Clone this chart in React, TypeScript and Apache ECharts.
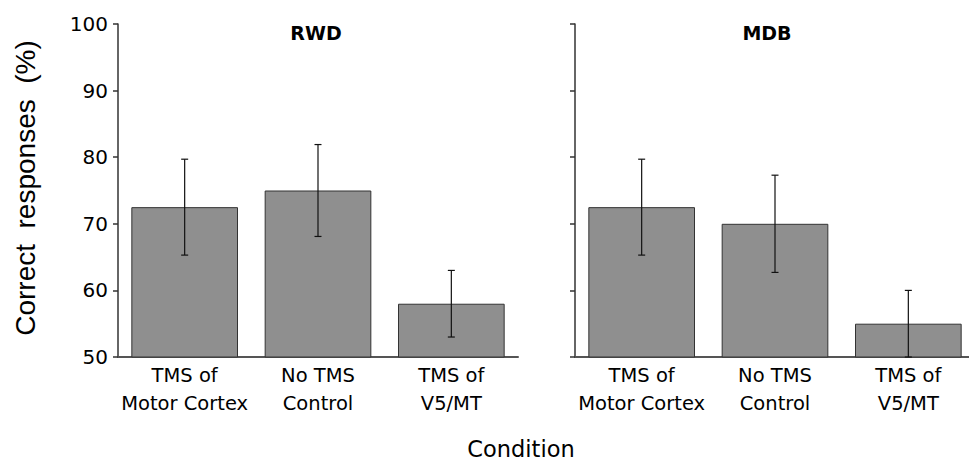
import React, { useEffect, useRef } from "react";
import * as echarts from "echarts";

const categories = ["TMS of\nMotor Cortex", "No TMS\nControl", "TMS of\nV5/MT"];
const panelTitles = ["RWD", "MDB"];
const rwdValues = [72.5, 75.0, 58.0];
const rwdErrors = [7.2, 6.9, 5.0];
const mdbValues = [72.5, 70.0, 55.0];
const mdbErrors = [7.2, 7.3, 5.0];
const yMin = 50;
const yMax = 100;
const yInterval = 10;
const yAxisTitle = "Correct  responses  (%)";
const xAxisTitle = "Condition";

const FONT = "'DejaVu Sans', Verdana, sans-serif";

function errorSeries(idx: number, values: number[], errors: number[]) {
  return {
    type: "custom",
    xAxisIndex: idx,
    yAxisIndex: idx,
    z: 5,
    data: values.map((v, i) => [i, v - errors[i], v + errors[i]]),
    renderItem: (params: any, api: any) => {
      const x = api.value(0);
      const lo = api.coord([x, api.value(1)]);
      const hi = api.coord([x, api.value(2)]);
      const cap = 3.5;
      const st = { stroke: "#111", lineWidth: 1.2 };
      return {
        type: "group",
        children: [
          { type: "line", shape: { x1: lo[0], y1: lo[1], x2: hi[0], y2: hi[1] }, style: st },
          { type: "line", shape: { x1: lo[0] - cap, y1: lo[1], x2: lo[0] + cap, y2: lo[1] }, style: st },
          { type: "line", shape: { x1: hi[0] - cap, y1: hi[1], x2: hi[0] + cap, y2: hi[1] }, style: st },
        ],
      };
    },
  };
}

export default function App() {
  const ref = useRef<HTMLDivElement>(null);
  useEffect(() => {
    if (!ref.current) return;
    const chart = echarts.init(ref.current, null, { renderer: "svg" });
    const xAxisCommon = {
      type: "category",
      data: categories,
      axisTick: { show: false },
      axisLine: { show: true, lineStyle: { color: "#555", width: 2 } },
      axisLabel: { color: "#000", fontSize: 19.5, lineHeight: 28, fontFamily: FONT, margin: 4, interval: 0 },
    };
    const yAxisCommon = {
      type: "value",
      min: yMin,
      max: yMax,
      interval: yInterval,
      splitLine: { show: false },
      axisLine: { show: true, lineStyle: { color: "#333", width: 1.5 } },
      axisTick: { show: true, length: 5, lineStyle: { color: "#333", width: 1.5 } },
    };
    const titleStyle = { fontFamily: FONT, fontSize: 19, fontWeight: "bold", fill: "#000", align: "center", verticalAlign: "middle" };
    chart.setOption({
      animation: false,
      backgroundColor: "#fff",
      grid: [
        { left: 118, top: 24, width: 400, height: 333 },
        { left: 575, top: 24, width: 400, height: 333 },
      ],
      xAxis: [
        { ...xAxisCommon, gridIndex: 0 },
        { ...xAxisCommon, gridIndex: 1 },
      ],
      yAxis: [
        { ...yAxisCommon, gridIndex: 0, axisLabel: { color: "#000", fontSize: 20, fontFamily: FONT, margin: 10 } },
        { ...yAxisCommon, gridIndex: 1, axisLabel: { show: false } },
      ],
      series: [
        {
          type: "bar",
          xAxisIndex: 0,
          yAxisIndex: 0,
          data: rwdValues,
          barWidth: "80%",
          itemStyle: { color: "#8f8f8f", borderColor: "#333", borderWidth: 1 },
        },
        {
          type: "bar",
          xAxisIndex: 1,
          yAxisIndex: 1,
          data: mdbValues,
          barWidth: "80%",
          itemStyle: { color: "#8f8f8f", borderColor: "#333", borderWidth: 1 },
        },
        errorSeries(0, rwdValues, rwdErrors),
        errorSeries(1, mdbValues, mdbErrors),
      ],
      graphic: [
        { type: "text", x: 316, y: 33, style: { text: panelTitles[0], ...titleStyle } },
        { type: "text", x: 767, y: 33, style: { text: panelTitles[1], ...titleStyle } },
        {
          type: "text",
          x: 25,
          y: 188,
          rotation: Math.PI / 2,
          style: { text: yAxisTitle, fontFamily: "'Liberation Sans', Arial, sans-serif", fontSize: 28, fill: "#000", align: "center", verticalAlign: "middle" },
        },
        {
          type: "text",
          x: 521,
          y: 449,
          style: { text: xAxisTitle, fontFamily: FONT, fontSize: 22.5, fill: "#000", align: "center", verticalAlign: "middle" },
        },
      ],
    });
    return () => chart.dispose();
  }, []);
  return (
    <div style={{ width: 969, height: 464, position: "absolute", left: 0, top: 0, overflow: "hidden" }}>
      <div ref={ref} style={{ width: 985, height: 464 }} />
    </div>
  );
}
